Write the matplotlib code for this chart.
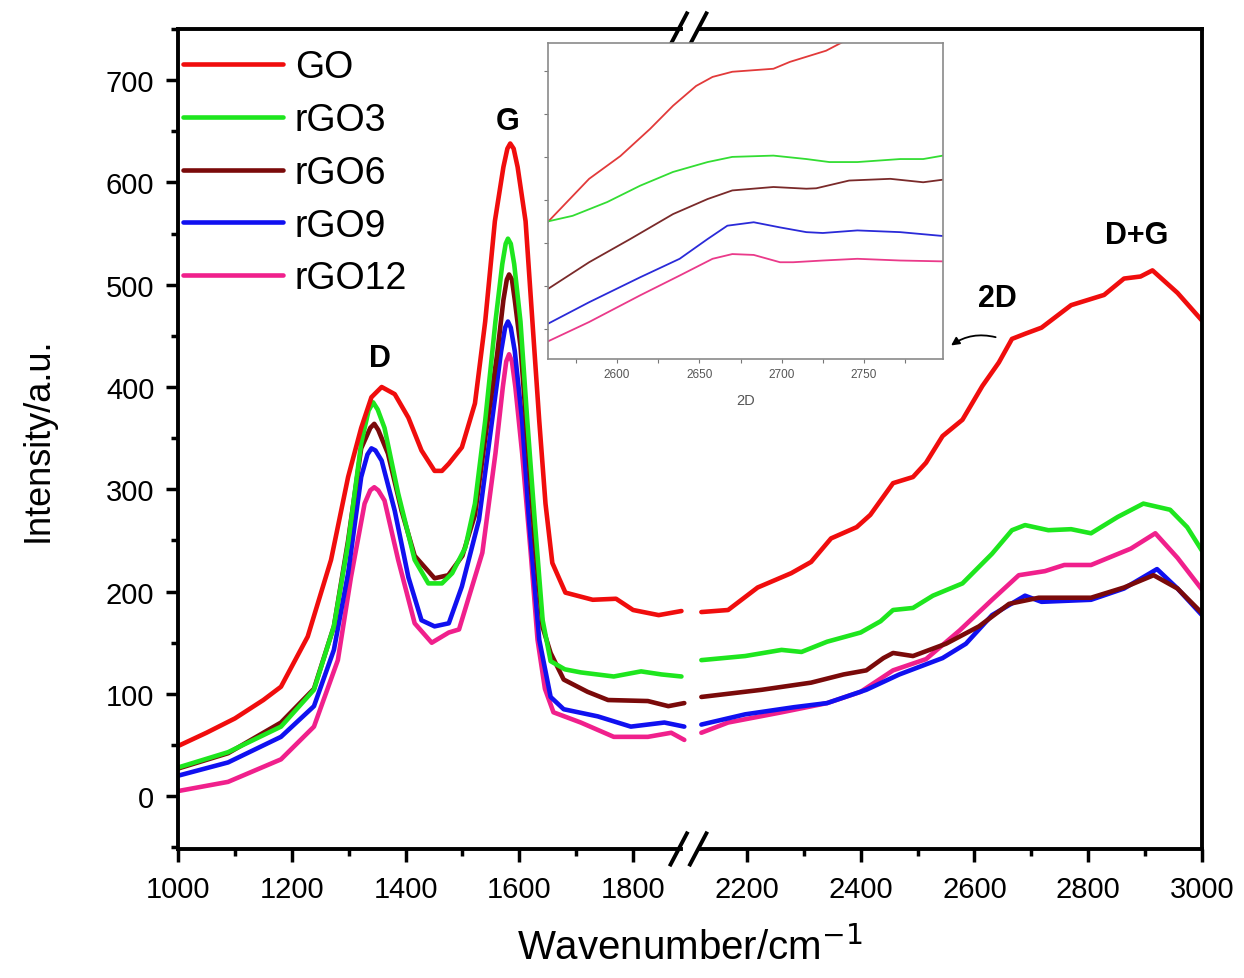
import numpy as np
import matplotlib.pyplot as plt

plt.rcParams['font.family'] = ['Liberation Sans', 'DejaVu Sans']

# ---- data ----
labels = ['GO', 'rGO3', 'rGO6', 'rGO9', 'rGO12']
colors = ['#f00d0d', '#1ee61e', '#7a0a0a', '#1010f0', '#f0208c']

go_x_lo = [1000, 1050, 1100, 1150, 1181, 1228, 1269, 1299, 1322, 1340, 1358, 1381, 1405, 1428, 1451, 1464,
           1476, 1499, 1522, 1540, 1557, 1572, 1579, 1584, 1590, 1597, 1611, 1623, 1635, 1646, 1658, 1681,
           1729, 1770, 1800, 1845, 1885]
go_y_lo = [49, 62, 76, 94, 107, 156, 231, 312, 360, 390, 400, 393, 370, 338, 318, 318,
           325, 341, 384, 464, 562, 615, 633, 638, 633, 615, 562, 464, 367, 286, 228, 199,
           192, 193, 182, 177, 181]
go_x_hi = [2120, 2167, 2219, 2278, 2313, 2348, 2393, 2417, 2457, 2492, 2515, 2544, 2579, 2614, 2643, 2666,
           2689, 2718, 2770, 2828, 2863, 2892, 2913, 2957, 3000]
go_y_hi = [180, 182, 204, 218, 229, 252, 263, 275, 306, 312, 326, 352, 368, 401, 424, 447,
           452, 458, 480, 490, 506, 508, 514, 492, 465]

r3_x_lo = [1000, 1088, 1181, 1239, 1274, 1299, 1322, 1335, 1343, 1351, 1363, 1387, 1416, 1440, 1464, 1482,
           1505, 1522, 1540, 1558, 1570, 1576, 1580, 1585, 1591, 1602, 1614, 1627, 1641, 1655, 1680, 1708,
           1766, 1814, 1850, 1885]
r3_y_lo = [28, 43, 68, 104, 166, 247, 345, 377, 385, 378, 360, 296, 231, 208, 208, 218,
           243, 286, 367, 464, 520, 540, 545, 540, 520, 464, 367, 270, 172, 132, 124, 121,
           117, 122, 119, 117]
r3_x_hi = [2120, 2197, 2261, 2296, 2341, 2400, 2435, 2457, 2492, 2527, 2579, 2631, 2666, 2689, 2730, 2770,
           2805, 2852, 2897, 2944, 2974, 3000]
r3_y_hi = [133, 137, 143, 141, 151, 160, 171, 182, 184, 196, 208, 237, 260, 265, 260, 261,
           257, 273, 286, 280, 263, 240]

r6_x_lo = [1000, 1088, 1181, 1239, 1274, 1299, 1322, 1338, 1345, 1352, 1369, 1393, 1416, 1451, 1475, 1500,
           1522, 1540, 1561, 1572, 1578, 1582, 1587, 1592, 1602, 1614, 1627, 1641, 1655, 1678, 1720, 1756,
           1826, 1862, 1890]
r6_y_lo = [27, 42, 72, 105, 166, 250, 340, 360, 364, 358, 335, 279, 235, 213, 216, 235,
           275, 350, 432, 485, 505, 510, 505, 485, 440, 350, 250, 165, 140, 114, 102, 94,
           93, 88, 91]
r6_x_hi = [2120, 2226, 2313, 2370, 2410, 2440, 2457, 2492, 2550, 2608, 2661, 2713, 2805, 2863, 2915, 2957, 3000]
r6_y_hi = [97, 104, 111, 119, 123, 135, 140, 137, 149, 166, 188, 194, 194, 204, 216, 203, 179]

r9_x_lo = [1000, 1088, 1181, 1239, 1274, 1299, 1322, 1333, 1340, 1347, 1358, 1381, 1405, 1428, 1451, 1476,
           1499, 1529, 1552, 1568, 1575, 1580, 1585, 1592, 1605, 1617, 1635, 1655, 1678, 1738, 1796, 1855, 1890]
r9_y_lo = [20, 33, 58, 88, 143, 218, 312, 334, 340, 338, 328, 279, 214, 172, 166, 169,
           205, 270, 367, 435, 458, 464, 458, 435, 367, 270, 153, 97, 85, 78, 68, 72, 68]
r9_x_hi = [2120, 2197, 2283, 2341, 2410, 2468, 2544, 2585, 2631, 2689, 2718, 2805, 2863, 2921, 2957, 3000]
r9_y_hi = [70, 80, 87, 91, 104, 119, 135, 149, 177, 196, 190, 192, 203, 222, 203, 177]

r12_x_lo = [1000, 1088, 1181, 1239, 1281, 1304, 1328, 1338, 1345, 1352, 1363, 1387, 1416, 1446, 1476, 1494,
            1535, 1558, 1571, 1577, 1582, 1587, 1593, 1605, 1620, 1632, 1645, 1660, 1708, 1766, 1826, 1867, 1890]
r12_y_lo = [5, 14, 36, 68, 133, 214, 286, 299, 302, 299, 289, 231, 169, 150, 160, 163,
            238, 335, 400, 425, 432, 425, 400, 335, 238, 153, 105, 82, 72, 58, 58, 62, 55]
r12_x_hi = [2120, 2167, 2261, 2341, 2400, 2457, 2515, 2574, 2631, 2678, 2724, 2758, 2805, 2875, 2918, 2957, 3000]
r12_y_hi = [62, 72, 82, 91, 102, 123, 134, 162, 192, 216, 220, 226, 226, 242, 257, 233, 202]

# inset (2D band, arbitrary units)
ins_go_x = [2558, 2583, 2602, 2620, 2634, 2648, 2658, 2670, 2695, 2705, 2727, 2737]
ins_go_y = [2.49, 3.49, 4.02, 4.65, 5.19, 5.65, 5.86, 5.98, 6.05, 6.21, 6.47, 6.67]
ins_r3_x = [2558, 2573, 2594, 2614, 2634, 2655, 2670, 2695, 2715, 2729, 2746, 2772, 2786, 2798]
ins_r3_y = [2.50, 2.63, 2.95, 3.33, 3.65, 3.88, 4.00, 4.03, 3.95, 3.88, 3.88, 3.95, 3.95, 4.03]
ins_r6_x = [2558, 2583, 2608, 2634, 2655, 2670, 2695, 2715, 2721, 2741, 2766, 2786, 2798]
ins_r6_y = [0.93, 1.55, 2.09, 2.67, 3.02, 3.22, 3.30, 3.26, 3.27, 3.45, 3.49, 3.41, 3.47]
ins_r9_x = [2558, 2583, 2614, 2638, 2655, 2667, 2683, 2699, 2715, 2725, 2746, 2772, 2798]
ins_r9_y = [0.12, 0.62, 1.20, 1.63, 2.09, 2.40, 2.48, 2.36, 2.25, 2.23, 2.29, 2.25, 2.16]
ins_r12_x = [2558, 2583, 2614, 2638, 2658, 2670, 2683, 2699, 2707, 2725, 2746, 2772, 2798]
ins_r12_y = [-0.29, 0.16, 0.78, 1.24, 1.63, 1.74, 1.72, 1.55, 1.55, 1.59, 1.63, 1.59, 1.57]

x_lo = [go_x_lo, r3_x_lo, r6_x_lo, r9_x_lo, r12_x_lo]
y_lo = [go_y_lo, r3_y_lo, r6_y_lo, r9_y_lo, r12_y_lo]
x_hi = [go_x_hi, r3_x_hi, r6_x_hi, r9_x_hi, r12_x_hi]
y_hi = [go_y_hi, r3_y_hi, r6_y_hi, r9_y_hi, r12_y_hi]
ins_x = [ins_go_x, ins_r3_x, ins_r6_x, ins_r9_x, ins_r12_x]
ins_y = [ins_go_y, ins_r3_y, ins_r6_y, ins_r9_y, ins_r12_y]
ins_colors = ['#e23a3a', '#33dd33', '#7a2a2a', '#2a2ad8', '#ea3a8a']

GAP = 200  # cm-1 cut out of the axis (1900 -> 2100)

fig = plt.figure(figsize=(12.44, 9.79), dpi=100)
ax = fig.add_axes([0.1431, 0.1318, 0.8231, 0.8376])

# draw in reverse so GO ends up on top like the original
for i in range(4, -1, -1):
    ax.plot(x_lo[i], y_lo[i], color=colors[i], lw=3.3, label=labels[i],
            solid_capstyle='round', solid_joinstyle='round')
    ax.plot(np.array(x_hi[i]) - GAP, y_hi[i], color=colors[i], lw=3.3,
            solid_capstyle='round', solid_joinstyle='round')

ax.set_xlim(1000, 3000 - GAP)
ax.set_ylim(-51.6, 746.7)

major = [1000, 1200, 1400, 1600, 1800, 2200, 2400, 2600, 2800, 3000]
minor = [1100, 1300, 1500, 1700, 2300, 2500, 2700, 2900]
ax.set_xticks([v if v < 1900 else v - GAP for v in major])
ax.set_xticklabels([str(v) for v in major])
ax.set_xticks([v if v < 1900 else v - GAP for v in minor], minor=True)
ax.set_yticks(np.arange(0, 701, 100))
ax.set_yticks(np.arange(-50, 751, 100), minor=True)
ax.tick_params(axis='both', which='major', direction='out', length=9, width=2.5, labelsize=21)
ax.tick_params(axis='x', which='major', pad=10)
ax.tick_params(axis='y', which='major', pad=8)
ax.tick_params(axis='both', which='minor', direction='out', length=5, width=2.5)
ax.tick_params(top=False, right=False)

for s in ['left', 'right']:
    ax.spines[s].set_linewidth(2.8)
for s in ['top', 'bottom']:
    ax.spines[s].set_visible(False)

# broken top / bottom spines
for yy in (0, 1):
    ax.plot([0, 0.491], [yy, yy], transform=ax.transAxes, color='k', lw=2.8, clip_on=False,
            solid_capstyle='projecting')
    ax.plot([0.509, 1], [yy, yy], transform=ax.transAxes, color='k', lw=2.8, clip_on=False,
            solid_capstyle='projecting')
    for xc in (0.489, 0.508):
        ax.plot([xc - 0.008, xc + 0.008], [yy - 0.019, yy + 0.019], transform=ax.transAxes,
                color='k', lw=2.8, clip_on=False)

ax.set_xlabel('Wavenumber/cm$^{-1}$', fontsize=29, labelpad=17)
ax.set_ylabel('Intensity/a.u.', fontsize=26, labelpad=36)

handles, labs = ax.get_legend_handles_labels()
order = [labs.index(l) for l in labels]
ax.legend([handles[k] for k in order], labels, loc='upper left', bbox_to_anchor=(-0.01, 0.994),
          frameon=False, fontsize=27, handlelength=2.67, handletextpad=0.32,
          labelspacing=0.45, borderaxespad=0.0)

pk = dict(fontsize=22, fontweight='bold', ha='center', va='center')
ax.text(1355, 428, 'D', **pk)
ax.text(1580, 660, 'G', **pk)
ax.text(2640 - GAP, 487, '2D', **pk)
ax.text(2885 - GAP, 549, 'D+G', **pk)
ax.annotate('', xy=(2555 - GAP, 439), xytext=(2642 - GAP, 448),
            arrowprops=dict(arrowstyle='-|>', color='k', lw=1.3, mutation_scale=12,
                            connectionstyle='arc3,rad=0.25'))

# inset
axi = fig.add_axes([0.4405, 0.6323, 0.3175, 0.3228])
for i in range(5):
    axi.plot(ins_x[i], ins_y[i], color=ins_colors[i], lw=1.3, solid_joinstyle='round')
axi.set_xlim(2558, 2798)
axi.set_ylim(-0.7, 6.65)
axi.set_xticks([2600, 2650, 2700, 2750])
axi.set_xticks([2575, 2625, 2675, 2725, 2775], minor=True)
axi.set_yticks(range(0, 7))
axi.set_yticklabels([])
axi.tick_params(axis='both', which='both', direction='out', length=3, width=0.8,
                color='#777777', labelsize=8.5, labelcolor='#555555', top=False, right=False)
for s in axi.spines.values():
    s.set_color('#8a8a8a')
    s.set_linewidth(1.2)
axi.set_xlabel('2D', fontsize=10.5, color='#555555', labelpad=9)

fig.savefig('out.png', dpi=100)
